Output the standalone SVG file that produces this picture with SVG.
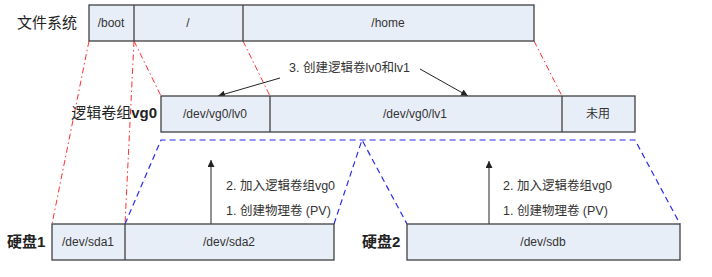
<svg xmlns="http://www.w3.org/2000/svg" width="712" height="277" viewBox="0 0 712 277">
<style>
.box{fill:#e8eef8;stroke:#404040;stroke-width:1.3}
.div{stroke:#404040;stroke-width:1.3}
.t{font-family:"Liberation Sans","Noto Sans CJK SC",sans-serif;font-size:12px;fill:#333;text-anchor:middle}
.a{font-family:"Liberation Sans","Noto Sans CJK SC",sans-serif;font-size:12.5px;fill:#333}
.h{font-family:"Liberation Sans","Noto Sans CJK SC",sans-serif;font-size:15px;fill:#222}
.b{font-weight:bold}
.red{stroke:#ff3030;stroke-width:1;stroke-dasharray:6 3 1.5 3;fill:none}
.blue{stroke:#2a2af0;stroke-width:1.2;stroke-dasharray:6 4;fill:none}
.arr{stroke:#222;stroke-width:1;fill:none;marker-end:url(#ah)}
</style>
<defs>
<marker id="ah" viewBox="0 0 10 10" refX="10" refY="5" markerWidth="7" markerHeight="7" orient="auto" markerUnits="userSpaceOnUse">
<path d="M0,0 L10,5 L0,10 z" fill="#222"/>
</marker>
</defs>
<g id="connectors">
<line class="red" x1="89" y1="41" x2="52" y2="224"/>
<line class="red" x1="134" y1="41" x2="125" y2="224"/>
<line class="red" x1="134" y1="41" x2="161" y2="96"/>
<line class="red" x1="243" y1="41" x2="270" y2="96"/>
<line class="red" x1="534" y1="41" x2="562" y2="96"/>
<polyline class="blue" points="125,224 161,140 635,140 680,224"/>
<polyline class="blue" points="334,224 362,140 407,224"/>
<line class="arr" x1="280" y1="78" x2="218" y2="96"/>
<line class="arr" x1="420" y1="69" x2="468" y2="96"/>
<line class="arr" x1="211" y1="224" x2="211" y2="160"/>
<line class="arr" x1="489" y1="224" x2="489" y2="161"/>
</g>
<g id="fs">
<text class="h" x="17" y="28">文件系统</text>
<rect class="box" x="89" y="5" width="445" height="36"/>
<line class="div" x1="134" y1="5" x2="134" y2="41"/>
<line class="div" x1="243" y1="5" x2="243" y2="41"/>
<text class="t" x="111" y="27">/boot</text>
<text class="t" x="188" y="27">/</text>
<text class="t" x="388" y="27">/home</text>
</g>
<g id="vg">
<text class="h" x="157" y="118" text-anchor="end">逻辑卷组<tspan class="b">vg0</tspan></text>
<rect class="box" x="161" y="96" width="474" height="36"/>
<line class="div" x1="270" y1="96" x2="270" y2="132"/>
<line class="div" x1="562" y1="96" x2="562" y2="132"/>
<text class="t" x="215" y="118">/dev/vg0/lv0</text>
<text class="t" x="415" y="118">/dev/vg0/lv1</text>
<text class="t" x="598" y="118">未用</text>
</g>
<g id="step3">
<text class="a" x="289" y="72">3. 创建逻辑卷lv0和lv1</text>
</g>
<g id="disk1">
<text class="h b" x="7" y="247">硬盘1</text>
<rect class="box" x="52" y="224" width="282" height="36"/>
<line class="div" x1="125" y1="224" x2="125" y2="260"/>
<text class="t" x="88" y="246">/dev/sda1</text>
<text class="t" x="229" y="246">/dev/sda2</text>
<text class="a" x="226" y="190">2. 加入逻辑卷组vg0</text>
<text class="a" x="226" y="215">1. 创建物理卷 (PV)</text>
</g>
<g id="disk2">
<text class="h b" x="362" y="247">硬盘2</text>
<rect class="box" x="407" y="224" width="273" height="36"/>
<text class="t" x="543" y="246">/dev/sdb</text>
<text class="a" x="503" y="190">2. 加入逻辑卷组vg0</text>
<text class="a" x="503" y="215">1. 创建物理卷 (PV)</text>
</g>
</svg>
